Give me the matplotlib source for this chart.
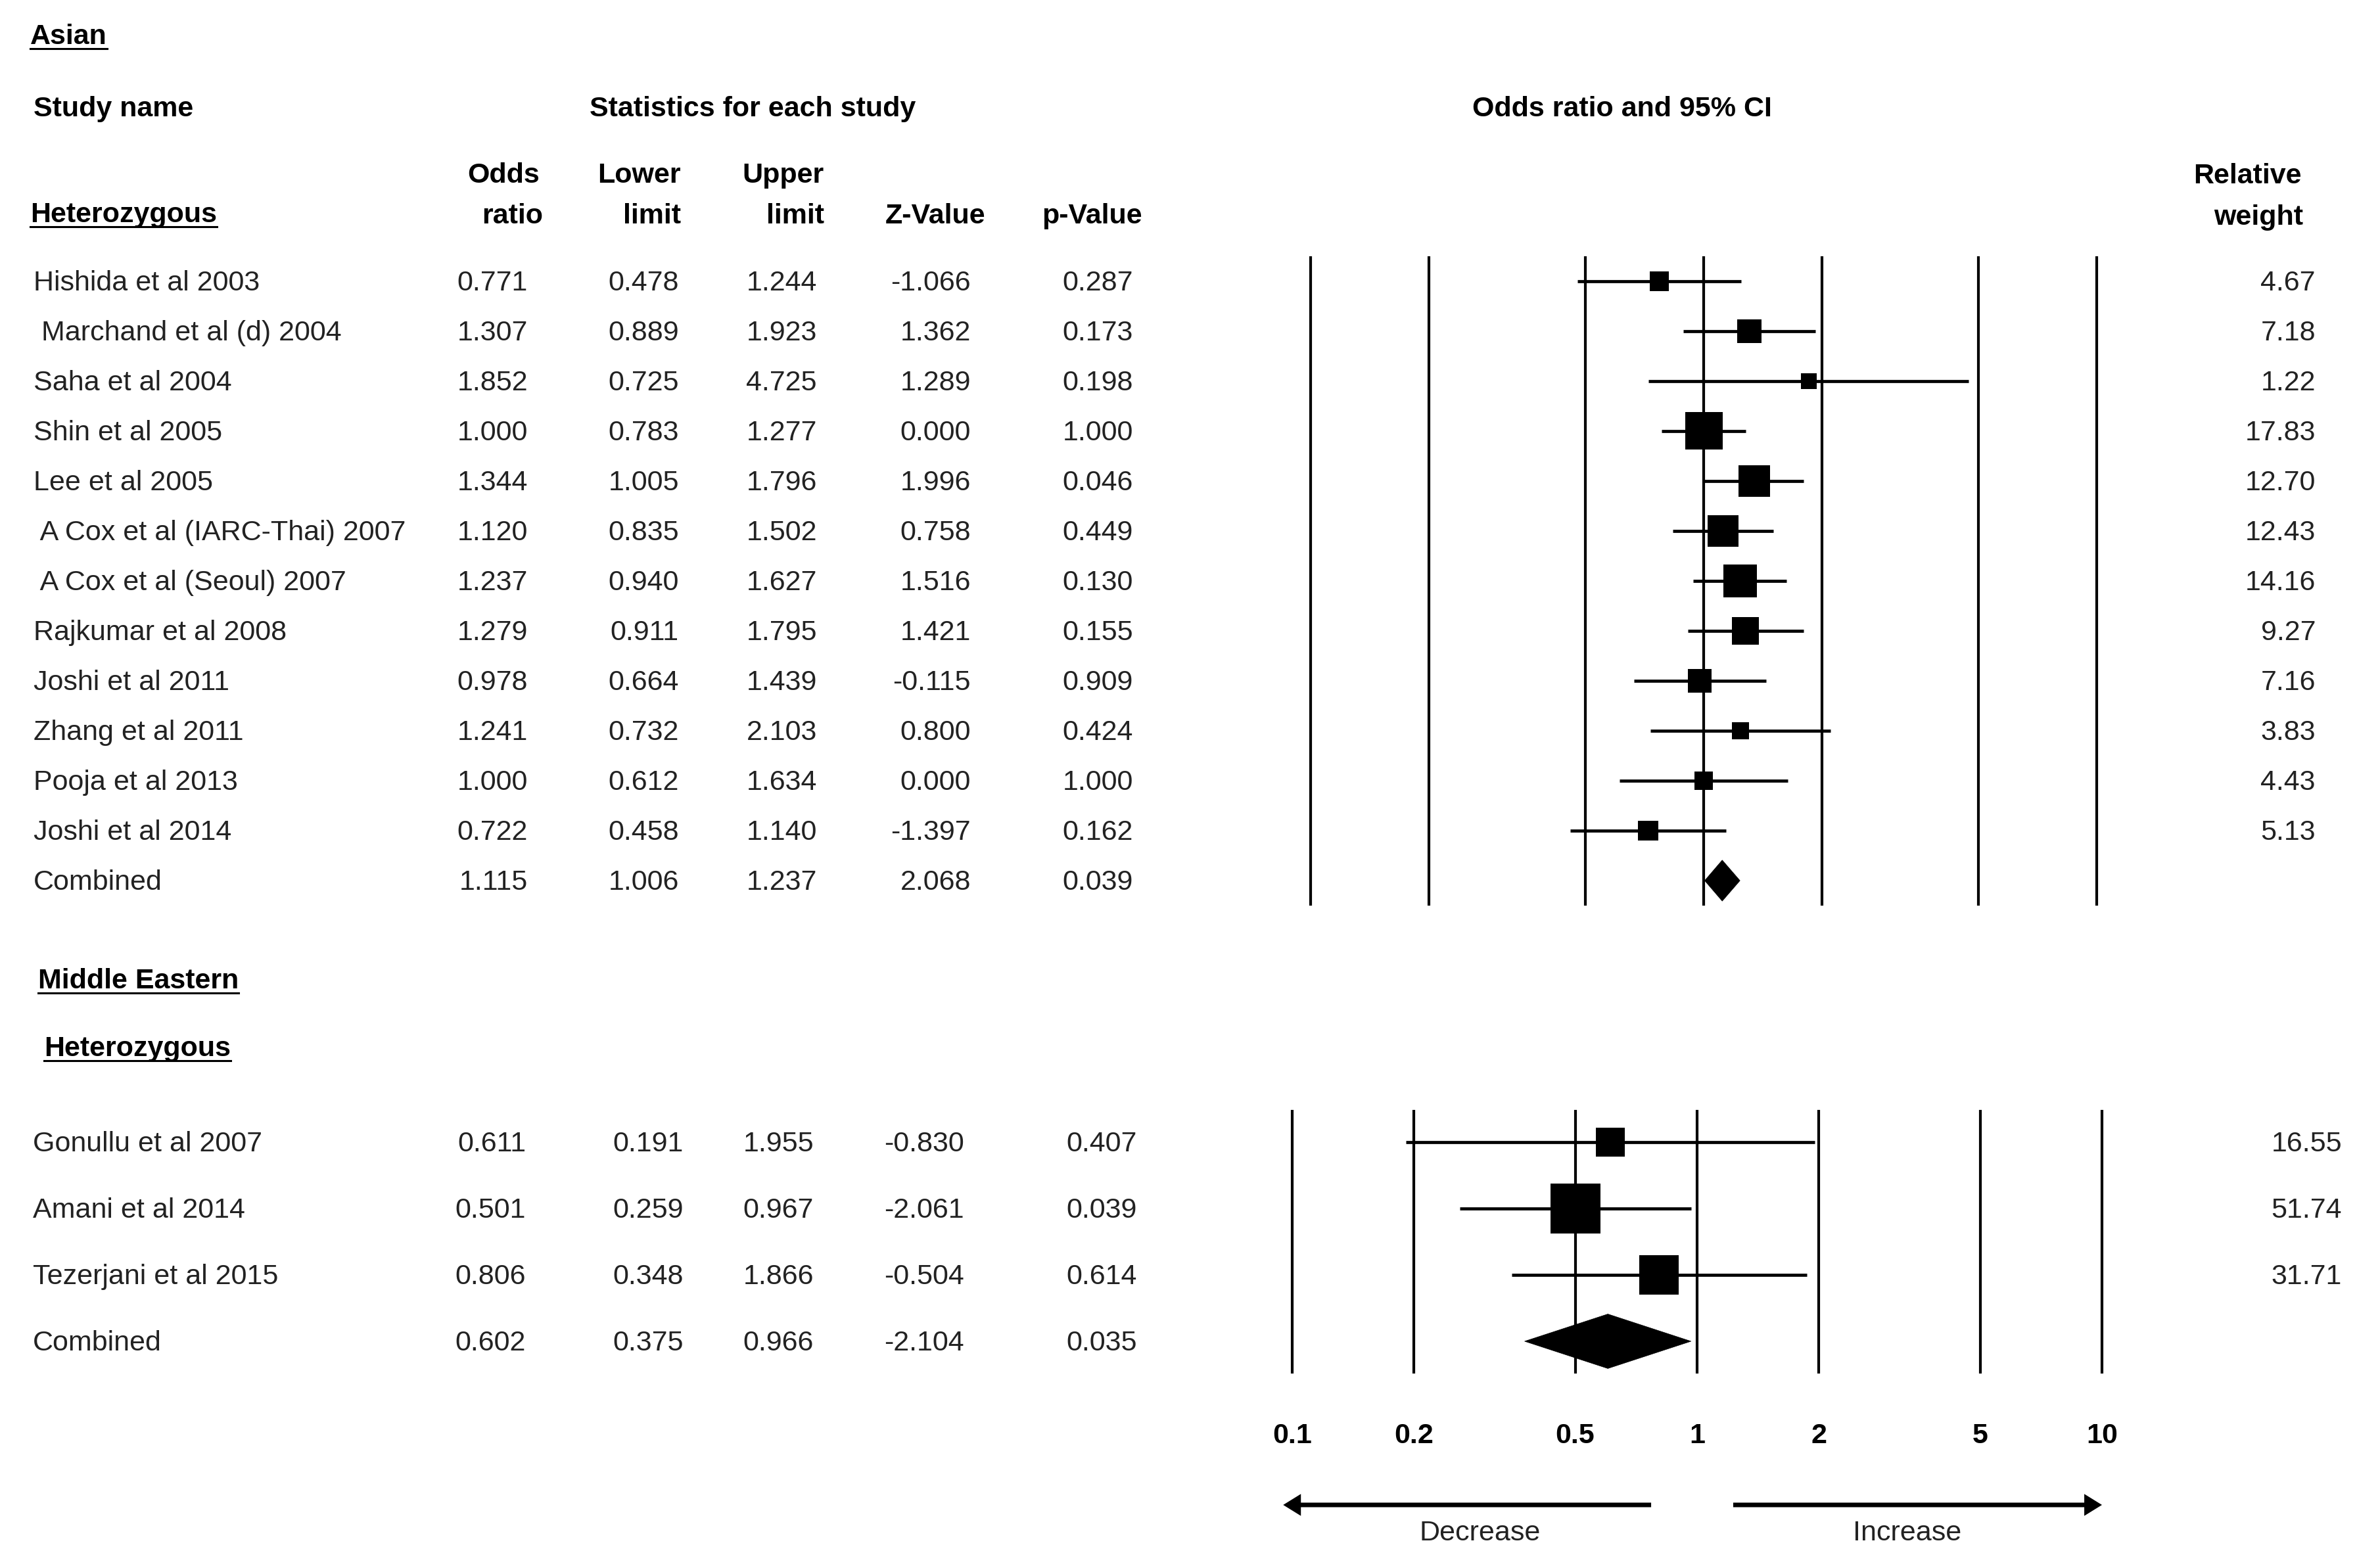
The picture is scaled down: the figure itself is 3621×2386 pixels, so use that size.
import matplotlib
matplotlib.use('Agg')
import matplotlib.pyplot as plt
from matplotlib.transforms import blended_transform_factory, offset_copy
from matplotlib.patches import Polygon
from matplotlib.lines import Line2D
from matplotlib.ticker import NullLocator
import numpy as np

plt.rcParams['font.family'] = ['Liberation Sans', 'DejaVu Sans']

# ---------------- data ----------------
asian_names = ["Hishida et al 2003", " Marchand et al (d) 2004", "Saha et al 2004",
               "Shin et al 2005", "Lee et al 2005", " A Cox et al (IARC-Thai) 2007",
               " A Cox et al (Seoul) 2007", "Rajkumar et al 2008", "Joshi et al 2011",
               "Zhang et al 2011", "Pooja et al 2013", "Joshi et al 2014", "Combined"]
asian_or = [0.771, 1.307, 1.852, 1.000, 1.344, 1.120, 1.237, 1.279, 0.978, 1.241, 1.000, 0.722, 1.115]
asian_lower = [0.478, 0.889, 0.725, 0.783, 1.005, 0.835, 0.940, 0.911, 0.664, 0.732, 0.612, 0.458, 1.006]
asian_upper = [1.244, 1.923, 4.725, 1.277, 1.796, 1.502, 1.627, 1.795, 1.439, 2.103, 1.634, 1.140, 1.237]
asian_z = [-1.066, 1.362, 1.289, 0.000, 1.996, 0.758, 1.516, 1.421, -0.115, 0.800, 0.000, -1.397, 2.068]
asian_p = [0.287, 0.173, 0.198, 1.000, 0.046, 0.449, 0.130, 0.155, 0.909, 0.424, 1.000, 0.162, 0.039]
asian_weight = [4.67, 7.18, 1.22, 17.83, 12.70, 12.43, 14.16, 9.27, 7.16, 3.83, 4.43, 5.13]

me_names = ["Gonullu et al 2007", "Amani et al 2014", "Tezerjani et al 2015", "Combined"]
me_or = [0.611, 0.501, 0.806, 0.602]
me_lower = [0.191, 0.259, 0.348, 0.375]
me_upper = [1.955, 0.967, 1.866, 0.966]
me_z = [-0.830, -2.061, -0.504, -2.104]
me_p = [0.407, 0.039, 0.614, 0.035]
me_weight = [16.55, 51.74, 31.71]

tick_vals = [0.1, 0.2, 0.5, 1, 2, 5, 10]
tick_labels = ["0.1", "0.2", "0.5", "1", "2", "5", "10"]

# ---------------- figure ----------------
W, H = 3621, 2386
DPI = 100
fig = plt.figure(figsize=(W / DPI, H / DPI), dpi=DPI)
fig.patch.set_facecolor('white')

FS = 31
TXT = '#222222'
BASE_OFF = 14


def fx(px):
    return px / W


def fy(py):
    return 1 - py / H


def make_axes(x01, x10, row0, spacing, n):
    ytop = row0 - 0.47 * spacing
    ybot = row0 + (n - 1 + 0.47) * spacing
    ax = fig.add_axes([fx(x01), fy(ybot), (x10 - x01) / W, (ybot - ytop) / H])
    ax.set_xscale('log')
    ax.set_xlim(0.1, 10)
    ax.set_ylim(n - 1 + 0.47, -0.47)
    ax.xaxis.set_minor_locator(NullLocator())
    for sp in ax.spines.values():
        sp.set_visible(False)
    ax.set_yticks([])
    return ax


def panel(ax, names, orr, lo, hi, z, p, w, spacing, name_x, cols, wcol, sq_frac):
    n = len(names)
    trans = blended_transform_factory(fig.transFigure, ax.transData)
    ttrans = offset_copy(trans, fig=fig, x=0, y=-BASE_OFF, units='dots')
    for i in range(n):
        fig.text(fx(name_x), i, names[i], transform=ttrans, ha='left', va='baseline',
                 fontsize=FS, color=TXT)
        for col, vals in zip(cols, [orr, lo, hi, z, p]):
            fig.text(fx(col), i, f"{vals[i]:.3f}", transform=ttrans, ha='right',
                     va='baseline', fontsize=FS, color=TXT)
        if i < len(w):
            fig.text(fx(wcol), i, f"{w[i]:.2f}", transform=ttrans, ha='right',
                     va='baseline', fontsize=FS, color=TXT)
    for t in tick_vals:
        ax.axvline(t, color='black', lw=3.0, zorder=1, clip_on=False)
    k = len(w)
    rows = np.arange(k)
    ax.hlines(rows, lo[:k], hi[:k], color='black', lw=3.4, zorder=2)
    wmax = max(w)
    side_px = [max(0.32, sq_frac * np.sqrt(wi / wmax)) * spacing for wi in w]
    sizes = [(sp * 72 / DPI) ** 2 for sp in side_px]
    ax.scatter(orr[:k], rows, s=sizes, marker='s', color='black', linewidths=0, zorder=3)
    yc = n - 1
    dh = 0.41
    ax.add_patch(Polygon([[lo[-1], yc], [orr[-1], yc - dh], [hi[-1], yc], [orr[-1], yc + dh]],
                         closed=True, facecolor='black', edgecolor='black', lw=0.5, zorder=3))


# top panel (Asian)
ax_t = make_axes(1994, 3190, 428, 76, len(asian_names))
ax_t.set_xticks([])
panel(ax_t, asian_names, asian_or, asian_lower, asian_upper, asian_z, asian_p, asian_weight,
      76, 51, [803, 1033, 1243, 1477, 1724], 3523, 0.75)

# bottom panel (Middle Eastern)
ax_b = make_axes(1966, 3198, 1738, 101.0, len(me_names))
panel(ax_b, me_names, me_or, me_lower, me_upper, me_z, me_p, me_weight,
      101.0, 50, [800, 1040, 1238, 1467, 1730], 3563, 0.76)
ax_b.set_xticks(tick_vals)
ax_b.set_xticklabels(tick_labels, fontsize=FS, fontweight='bold', color='black')
ax_b.tick_params(axis='x', length=0, pad=55)

# ---------------- headers ----------------
def htext(x, yc, s, ha='left', bold=True, color='black'):
    return fig.text(fx(x), fy(yc + BASE_OFF), s, ha=ha, va='baseline', fontsize=FS,
                    fontweight='bold' if bold else 'normal', color=color)


underlined = []
underlined.append((htext(46, 53, "Asian"), 53))
htext(51, 163, "Study name")
htext(1145, 163, "Statistics for each study", ha='center')
htext(2468, 163, "Odds ratio and 95% CI", ha='center')
htext(821, 264, "Odds", ha='right')
htext(826, 326, "ratio", ha='right')
htext(1036, 264, "Lower", ha='right')
htext(1036, 326, "limit", ha='right')
htext(1254, 264, "Upper", ha='right')
htext(1254, 326, "limit", ha='right')
htext(1499, 326, "Z-Value", ha='right')
htext(1738, 326, "p-Value", ha='right')
htext(3502, 265, "Relative", ha='right')
htext(3504, 328, "weight", ha='right')
underlined.append((htext(46, 324, "Heterozygous"), 324))
underlined.append((htext(58, 1490, "Middle Eastern"), 1490))
underlined.append((htext(67, 1593, "Heterozygous"), 1593))

fig.canvas.draw()
renderer = fig.canvas.get_renderer()
for t, yc in underlined:
    bb = t.get_window_extent(renderer)
    yl = fy(yc + 21)
    fig.add_artist(Line2D([bb.x0 / W, bb.x1 / W], [yl, yl], color='black', lw=2.2,
                          transform=fig.transFigure))

# ---------------- direction arrows ----------------
atrans = blended_transform_factory(ax_b.transData, fig.transFigure)
astyle = 'simple,head_length=0.97,head_width=1.2,tail_width=0.25'
ax_b.annotate('', xy=(0.095, fy(2290)), xytext=(0.77, fy(2290)), xycoords=atrans,
              textcoords=atrans, annotation_clip=False,
              arrowprops=dict(arrowstyle=astyle, mutation_scale=20, color='black', lw=0,
                              shrinkA=0, shrinkB=0))
ax_b.annotate('', xy=(10.0, fy(2290)), xytext=(1.228, fy(2290)), xycoords=atrans,
              textcoords=atrans, annotation_clip=False,
              arrowprops=dict(arrowstyle=astyle, mutation_scale=20, color='black', lw=0,
                              shrinkA=0, shrinkB=0))
htext(2252, 2330, "Decrease", ha='center', bold=False, color=TXT)
htext(2902, 2330, "Increase", ha='center', bold=False, color=TXT)

fig.savefig('out.png', dpi=DPI, facecolor='white')
